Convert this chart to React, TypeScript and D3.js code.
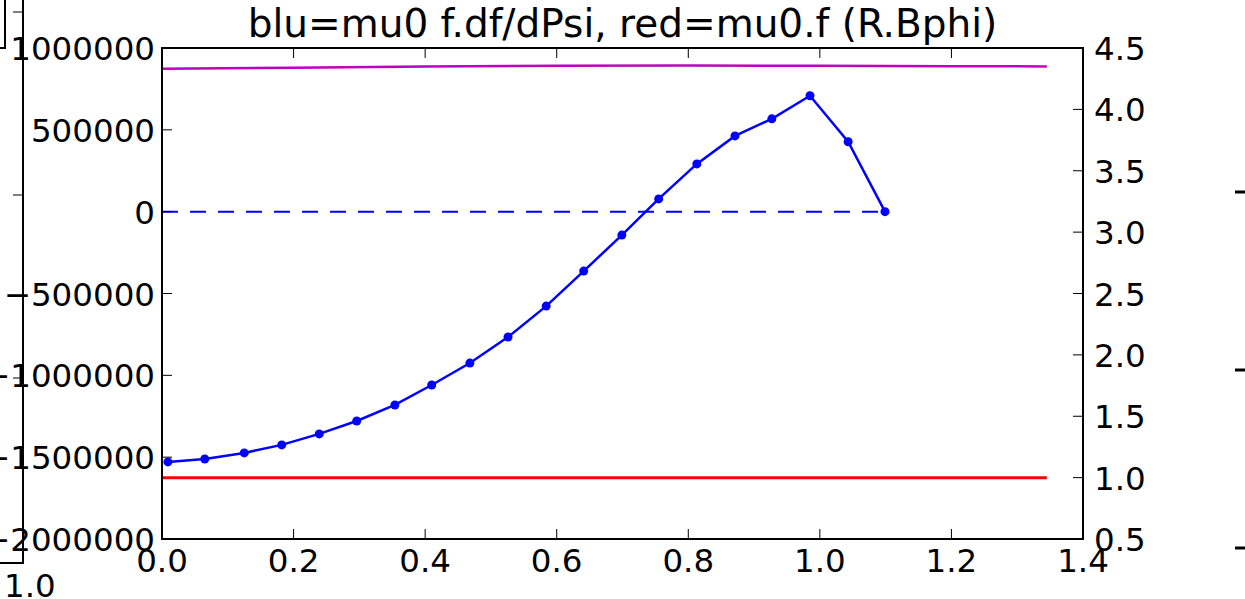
import React from "react";
import * as d3 from "d3";

const W = 1245;
const H = 599;

const title = "blu=mu0 f.df/dPsi, red=mu0.f (R.Bphi)";

// Blue series (left axis): mu0 f.df/dPsi
const blueX = [0.009, 0.065, 0.125, 0.182, 0.239, 0.296, 0.354, 0.41, 0.468, 0.526, 0.584, 0.641, 0.699, 0.755, 0.813, 0.871, 0.927, 0.985, 1.043, 1.099];
const blueY = [-1529000, -1511000, -1474000, -1425000, -1358000, -1279000, -1181000, -1059000, -925000, -766000, -577000, -363000, -143000, 78000, 292000, 463000, 567000, 708000, 427000, 0];

// Red & magenta series (right axis)
const sideX = [0.0, 0.2, 0.4, 0.6, 0.8, 1.0, 1.2, 1.345];
const redY = [1.0, 1.0, 1.0, 1.0, 1.0, 1.0, 1.0, 1.0];
const magentaY = [4.33, 4.34, 4.35, 4.356, 4.358, 4.355, 4.352, 4.35];

const xTicks = [0.0, 0.2, 0.4, 0.6, 0.8, 1.0, 1.2, 1.4];
const leftTicks = [1000000, 500000, 0, -500000, -1000000, -1500000, -2000000];
const rightTicks = [4.5, 4.0, 3.5, 3.0, 2.5, 2.0, 1.5, 1.0, 0.5];

const L = 162, R = 1083, T = 48, B = 539;
const FONT = "DejaVu Sans, sans-serif";
const FS = 32.5;
const TFS = 39;

export default function App() {
  const x = d3.scaleLinear().domain([0, 1.4]).range([L, R]);
  const yL = d3.scaleLinear().domain([-2000000, 1000000]).range([B, T]);
  const yR = d3.scaleLinear().domain([0.5, 4.5]).range([B, T]);

  const blueLine = d3.line<number>().x((_, i) => x(blueX[i])).y((d) => yL(d));
  const redLine = d3.line<number>().x((_, i) => x(sideX[i])).y((d) => yR(d));
  const magLine = d3.line<number>().x((_, i) => x(sideX[i])).y((d) => yR(d));

  const fmtL = (v: number) => (v < 0 ? "\u2212" + String(-v) : String(v));
  const fmtR = (v: number) => v.toFixed(1);

  return (
    <svg width={W} height={H} style={{ position: "absolute", left: 0, top: 0, background: "#fff" }} fontFamily={FONT}>
      <rect x={0} y={0} width={W} height={H} fill="#fff" />
      {/* background remnants of another figure */}
      <g stroke="#000" fill="none">
        <path d="M23,0 V563 H0" strokeWidth={2} />
        <path d="M5,0 V48 H0" strokeWidth={2} />
        {[12, 195, 378].map((v) => (
          <line key={v} x1={13} x2={23} y1={v} y2={v} strokeWidth={1} />
        ))}
        {[192, 370, 548].map((v) => (
          <line key={v} x1={1235} x2={1245} y1={v} y2={v} strokeWidth={3} />
        ))}
      </g>
      <text x={4} y={597} fontSize={FS} fill="#000">1.0</text>

      {/* title */}
      <text x={(L + R) / 2} y={37} fontSize={TFS} textAnchor="middle" fill="#000">{title}</text>

      {/* data */}
      <line x1={x(0)} x2={x(blueX[blueX.length - 1])} y1={yL(0)} y2={yL(0)} stroke="#0000ff" strokeWidth={2} strokeDasharray="16 12" />
      <path d={magLine(magentaY) || ""} fill="none" stroke="#bf00bf" strokeWidth={2.5} />
      <path d={redLine(redY) || ""} fill="none" stroke="#ff0000" strokeWidth={3} />
      <path d={blueLine(blueY) || ""} fill="none" stroke="#0000ff" strokeWidth={2.5} />
      {blueY.map((v, i) => (
        <circle key={i} cx={x(blueX[i])} cy={yL(v)} r={4.5} fill="#0000ff" />
      ))}

      {/* frame */}
      <rect x={L} y={T} width={R - L} height={B - T} fill="none" stroke="#000" strokeWidth={2} />

      {/* x ticks */}
      {xTicks.map((t) => (
        <g key={"x" + t}>
          <line x1={x(t)} x2={x(t)} y1={B} y2={B - 10} stroke="#000" strokeWidth={1} />
          <line x1={x(t)} x2={x(t)} y1={T} y2={T + 10} stroke="#000" strokeWidth={1} />
          <text x={x(t)} y={572} fontSize={FS} textAnchor="middle" fill="#000">{t.toFixed(1)}</text>
        </g>
      ))}
      {/* left ticks */}
      {leftTicks.map((t) => (
        <g key={"l" + t}>
          <line x1={L} x2={L + 10} y1={yL(t)} y2={yL(t)} stroke="#000" strokeWidth={1} />
          <text x={155} y={yL(t) + 12} fontSize={FS} textAnchor="end" fill="#000">{fmtL(t)}</text>
        </g>
      ))}
      {/* right ticks */}
      {rightTicks.map((t) => (
        <g key={"r" + t}>
          <line x1={R - 10} x2={R} y1={yR(t)} y2={yR(t)} stroke="#000" strokeWidth={1} />
          <text x={1094} y={yR(t) + 12} fontSize={FS} textAnchor="start" fill="#000">{fmtR(t)}</text>
        </g>
      ))}
    </svg>
  );
}
